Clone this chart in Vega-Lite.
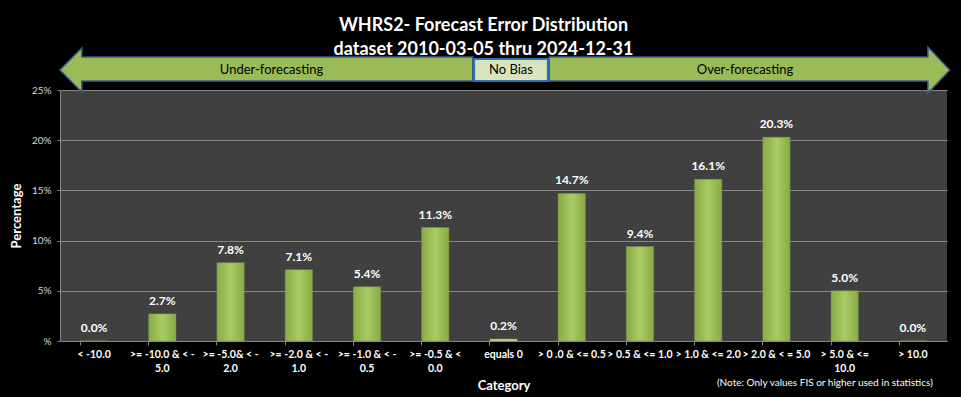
{
  "$schema": "https://vega.github.io/schema/vega-lite/v6.json",
  "width": 887,
  "height": 251,
  "autosize": {"type": "none"},
  "padding": {"left": 60, "top": 90, "right": 14, "bottom": 56},
  "background": "#000000",
  "config": {
    "view": {"fill": "#404040", "stroke": null},
    "font": "Lato",
    "axis": {"labelFont": "Lato", "titleFont": "Lato"}
  },
  "title": {
    "text": ["WHRS2- Forecast Error Distribution", "dataset 2010-03-05  thru 2024-12-31"],
    "color": "#ffffff",
    "fontSize": 18,
    "fontWeight": "bold",
    "font": "Lato",
    "anchor": "middle",
    "frame": "group",
    "lineHeight": 24,
    "offset": -15,
    "dx": -20
  },
  "datasets": {
    "bars": [
      {"category": "< -10.0", "value": 0.0},
      {"category": ">= -10.0 & < -|5.0", "value": 0.027},
      {"category": ">= -5.0& < -|2.0", "value": 0.078},
      {"category": ">= -2.0 & < -|1.0", "value": 0.071},
      {"category": ">= -1.0 & < -|0.5", "value": 0.054},
      {"category": ">= -0.5 & <|0.0", "value": 0.113},
      {"category": "equals 0", "value": 0.002},
      {"category": "> 0 .0 & <= 0.5", "value": 0.147},
      {"category": "> 0.5 & <= 1.0", "value": 0.094},
      {"category": "> 1.0 & <= 2.0", "value": 0.161},
      {"category": "> 2.0 & < = 5.0", "value": 0.203},
      {"category": "> 5.0 & <=|10.0", "value": 0.05},
      {"category": "> 10.0", "value": 0.0}
    ],
    "arrows": [
      {"shape": "under", "pos": 0, "low": 0.27, "high": 0.27},
      {"shape": "under", "pos": 0.32, "low": 0.248, "high": 0.2918},
      {"shape": "under", "pos": 0.3201, "low": 0.259, "high": 0.2829},
      {"shape": "under", "pos": 6.05, "low": 0.259, "high": 0.2829},
      {"shape": "over", "pos": 7.17, "low": 0.259, "high": 0.2829},
      {"shape": "over", "pos": 12.72, "low": 0.259, "high": 0.2829},
      {"shape": "over", "pos": 12.7201, "low": 0.247, "high": 0.2928},
      {"shape": "over", "pos": 13.04, "low": 0.27, "high": 0.27}
    ],
    "boxes": [
      {"start": 6.07, "end": 7.15, "low": 0.259, "high": 0.281}
    ],
    "labels": [
      {"text": "Under-forecasting", "pos": 3.1, "y": 0.27},
      {"text": "No  Bias", "pos": 6.61, "y": 0.27},
      {"text": "Over-forecasting", "pos": 10.04, "y": 0.27}
    ],
    "notes": [
      {"text": "(Note: Only values FIS or higher used in statistics)", "pos": 11.21, "y": -0.0418}
    ]
  },
  "layer": [
    {
      "data": {"name": "bars"},
      "encoding": {
        "x": {
          "field": "category",
          "type": "nominal",
          "sort": null,
          "scale": {"paddingInner": 0.6, "paddingOuter": 0.3},
          "axis": {
            "title": "Category",
            "titleColor": "#ffffff",
            "titleFontSize": 13,
            "titleFontWeight": "bold",
            "titlePadding": 6,
            "labelExpr": "split(datum.label, '|')",
            "labelColor": "#ffffff",
            "labelFontSize": 10.5,
            "labelFontWeight": "bold",
            "labelAngle": 0,
            "labelLineHeight": 14,
            "labelPadding": 4,
            "labelBaseline": "top",
            "bandPosition": 0,
            "tickColor": "#868686",
            "tickSize": 4,
            "domainColor": "#868686",
            "labelLimit": 100
          }
        },
        "y": {
          "field": "value",
          "type": "quantitative",
          "title": "Percentage",
          "scale": {"domain": [0, 0.25], "nice": false},
          "axis": {
            "title": "Percentage",
            "titleColor": "#ffffff",
            "titleFontSize": 13,
            "titleFontWeight": "bold",
            "titlePadding": 8,
            "values": [0, 0.05, 0.1, 0.15, 0.2, 0.25],
            "labelExpr": "datum.value == 0 ? '%' : format(datum.value, '.0%')",
            "labelColor": "#d9d9d9",
            "labelFontSize": 10,
            "labelPadding": 6,
            "grid": true,
            "gridColor": "#868686",
            "gridWidth": 1,
            "tickColor": "#868686",
            "tickSize": 3,
            "domainColor": "#868686"
          }
        }
      },
      "layer": [
        {
          "mark": {"type": "bar", "stroke": "#7a9440", "strokeWidth": 0.5},
          "encoding": {
            "fill": {
              "condition": {"test": "datum.category == 'equals 0'", "value": "#c4d79b"},
              "value": {
                "gradient": "linear", "x1": 0, "x2": 1, "y1": 0, "y2": 0,
                "stops": [
                  {"offset": 0, "color": "#88aa48"},
                  {"offset": 0.5, "color": "#a9cc62"},
                  {"offset": 1, "color": "#88aa48"}
                ]
              }
            }
          }
        },
        {
          "mark": {
            "type": "text",
            "baseline": "bottom",
            "dy": -6,
            "color": "#ffffff",
            "fontSize": 12,
            "fontWeight": "bold",
            "font": "Lato"
          },
          "encoding": {
            "text": {"field": "value", "type": "quantitative", "format": ".1%"}
          }
        }
      ]
    },
    {
      "layer": [
        {
          "data": {"name": "arrows"},
          "mark": {"type": "area", "fill": "#9bbb59", "stroke": "#385d8a", "strokeWidth": 1.5, "orient": "vertical", "fillOpacity": 1},
          "encoding": {
            "x": {"field": "pos", "type": "quantitative", "scale": {"domain": [0, 13], "nice": false, "zero": false}, "axis": null},
            "y": {"field": "low", "type": "quantitative", "title": "Percentage"},
            "y2": {"field": "high"},
            "detail": {"field": "shape", "type": "nominal"}
          }
        },
        {
          "data": {"name": "boxes"},
          "mark": {"type": "rect", "fill": "#d7e4bd", "stroke": "#2e75b6", "strokeWidth": 2},
          "encoding": {
            "x": {"field": "start", "type": "quantitative", "scale": {"domain": [0, 13], "nice": false, "zero": false}, "axis": null},
            "x2": {"field": "end"},
            "y": {"field": "low", "type": "quantitative", "title": "Percentage"},
            "y2": {"field": "high"}
          }
        },
        {
          "data": {"name": "labels"},
          "mark": {"type": "text", "color": "#000000", "fontSize": 13, "font": "Lato", "baseline": "middle"},
          "encoding": {
            "x": {"field": "pos", "type": "quantitative", "scale": {"domain": [0, 13], "nice": false, "zero": false}, "axis": null},
            "y": {"field": "y", "type": "quantitative", "title": "Percentage"},
            "text": {"field": "text"}
          }
        },
        {
          "data": {"name": "notes"},
          "mark": {"type": "text", "color": "#ffffff", "fontSize": 10, "font": "Lato", "baseline": "middle"},
          "encoding": {
            "x": {"field": "pos", "type": "quantitative", "scale": {"domain": [0, 13], "nice": false, "zero": false}, "axis": null},
            "y": {"field": "y", "type": "quantitative", "title": "Percentage"},
            "text": {"field": "text"}
          }
        }
      ]
    }
  ],
  "resolve": {"scale": {"x": "independent"}}
}
